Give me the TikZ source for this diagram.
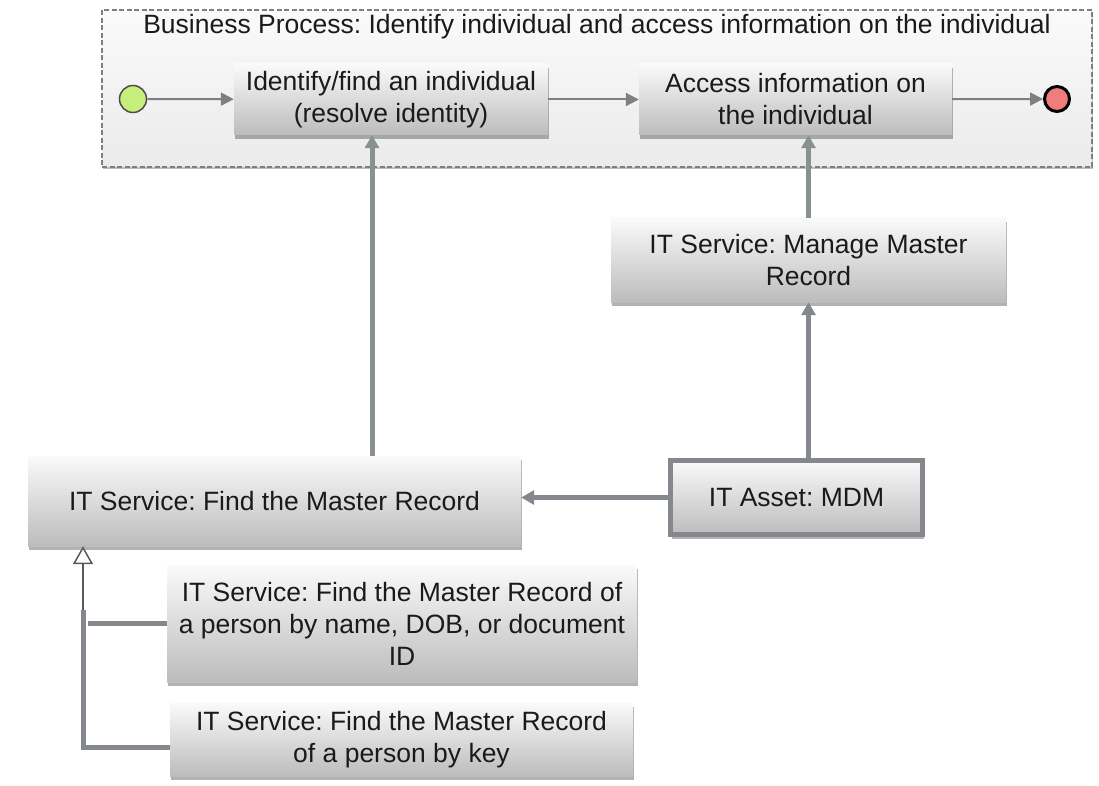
\documentclass[tikz,border=0pt]{standalone}
\usepackage{fontspec}
\setmainfont{Liberation Sans}
\usetikzlibrary{arrows.meta,positioning,calc,shadows}
\definecolor{ink}{HTML}{1A1A1A}
\definecolor{flow}{HTML}{7F7F7F}
\definecolor{link}{HTML}{87918E}
\definecolor{wire}{HTML}{84878B}
\definecolor{boxtop}{HTML}{FAFAFA}
\definecolor{boxbot}{HTML}{BCBCBC}
\definecolor{startc}{HTML}{C5EE7B}
\definecolor{endc}{HTML}{F07C7C}
\colorlet{frame}{flow}
\frenchspacing
\tikzset{task/.style={rectangle,top color=boxtop,bottom color=boxbot,align=center,text=ink,inner sep=0pt,
    drop shadow={shadow xshift=1pt,shadow yshift=-4pt,fill=black,opacity=.3}},
  asset/.style={task,draw=wire,line width=5pt},
  bpbox/.style={rectangle,top color=boxtop,bottom color=black!8,draw=frame,line width=2.5pt,
    dash pattern=on 5pt off 2.5pt,drop shadow={shadow xshift=1pt,shadow yshift=-2pt,fill=black,opacity=.25}},
  startev/.style={circle,fill=startc,draw=black!70,line width=1.5pt,minimum size=27pt,inner sep=0pt},
  endev/.style={circle,fill=endc,draw=black,line width=3pt,minimum size=25pt,inner sep=0pt},
  flowarr/.style={draw=flow,line width=2pt,-{Triangle[length=13pt,width=13pt]}},
  uparr/.style={draw=link,line width=5pt,-{Triangle[length=13pt,width=14pt]}},
  assetarr/.style={draw=wire,line width=5pt,-{Triangle[length=13pt,width=14pt]}},
  genline/.style={draw=wire,line width=5pt},
  genarr/.style={draw=black!65,line width=1.5pt,-{Triangle[open,length=18pt,width=20pt,fill=white]}}}

\begin{document}
\begin{tikzpicture}[x=1pt,y=-1pt,font=\fontsize{26.5}{32}\selectfont]
\useasboundingbox (0,0) rectangle (1099,786);
% business process
\node[bpbox,minimum width=990pt,minimum height=157pt] (bp) at (597,88.5) {};
\node[text=ink] (bptitle) at (597,27) {Business Process: Identify individual and access information on the individual};
\node[startev] (start) at (133,99) {};
\node[task,minimum width=314pt,minimum height=71pt] (t1) at (391,99.5) {Identify/find an individual\\(resolve identity)};
\node[task,minimum width=313pt,minimum height=71pt] (t2) at (795.5,99.5) {Access information on\\the individual};
\node[endev] (stop) at (1057,99) {};
\draw[flowarr] (start) -- (t1);
\draw[flowarr] (t1) -- (t2);
\draw[flowarr] (t2) -- (stop);
% services
\node[task,minimum width=395pt,minimum height=84pt] (manage) at (808.5,260) {IT Service: Manage Master\\Record};
\node[asset,minimum width=252pt,minimum height=74pt] (mdm) at (796.5,497.5) {IT Asset: MDM};
\node[task,minimum width=493pt,minimum height=90pt] (find) at (274.5,501) {IT Service: Find the Master Record};
\node[task,minimum width=470pt,minimum height=117pt] (sub1) at (402,623.5) {IT Service: Find the Master Record of\\a person by name, DOB, or document\\ID};
\node[task,minimum width=463pt,minimum height=73pt] (sub2) at (401.5,739.5) {IT Service: Find the Master Record\\of a person by key};
\draw[uparr] ([xshift=-19pt]t1.south |- find.north) -- ([xshift=-19pt]t1.south);
\draw[uparr] (manage.north) -- (manage.north |- t2.south);
\draw[assetarr] (manage.south |- mdm.north) -- (manage.south);
\draw[assetarr] (mdm.west) -- (find.east |- mdm.west);
% specialisations
\coordinate (gen) at (83,610);
\coordinate (gen1) at (88,620);
\draw[genline] ([yshift=-8pt]sub2.west) -| (gen);
\draw[genline] (sub1.west) -- (gen1 |- sub1.west);
\draw[genarr] (gen) -- (gen |- find.south);
\end{tikzpicture}
\end{document}
